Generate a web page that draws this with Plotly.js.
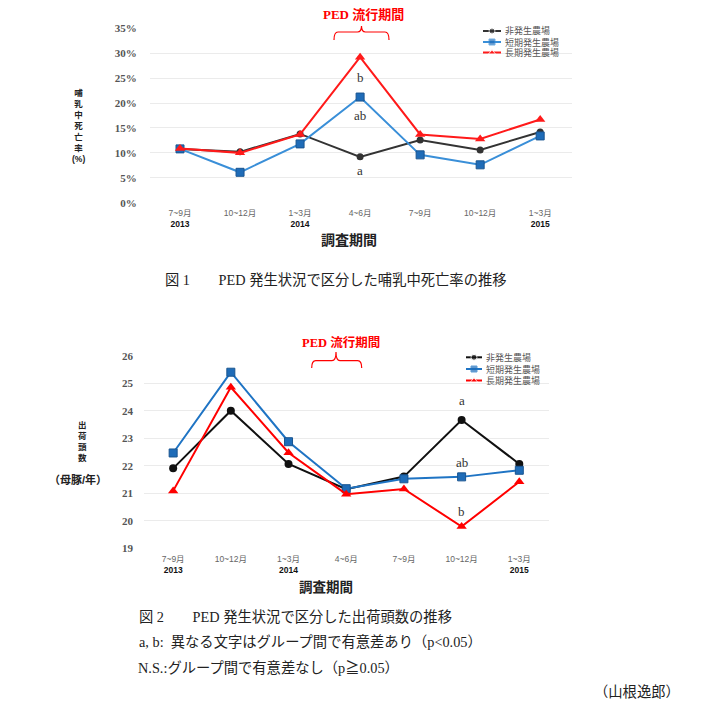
<!DOCTYPE html>
<html><head><meta charset="utf-8">
<script src="https://cdn.plot.ly/plotly-3.0.1.min.js"></script>
<style>html,body{margin:0;padding:0;background:#fff}#c{width:705px;height:702px}</style>
</head><body><div id="c"></div>
<script>
// ---- data ----
const categories = ['7~9月','10~12月','1~3月','4~6月','7~9月','10~12月','1~3月'];
const years = ['2013','','2014','','','','2015'];
const seriesNames = ['非発生農場','短期発生農場','長期発生農場'];
// 図1 哺乳中死亡率 (%)
const mortNon   = [10.8,10.2,13.8,9.2,12.6,10.6,14.2];
const mortShort = [10.8,6.1,11.8,21.2,9.6,7.6,13.4];
const mortLong  = [10.9,10.0,13.7,29.2,13.7,12.8,16.7];
// 図2 出荷頭数 (母豚/年)
const shipNon   = [21.91,24.01,22.07,21.15,21.61,23.67,22.07];
const shipShort = [22.47,25.41,22.88,21.17,21.53,21.60,21.84];
const shipLong  = [21.09,24.86,22.48,20.97,21.16,19.79,21.42];
const mortTicks = [0,5,10,15,20,25,30,35];
const shipTicks = [19,20,21,22,23,24,25,26];
const sigMort = ['b','ab','a'];
const sigShip = ['a','ab','b'];

// ---- helpers ----
const W=705,H=702;
const px=x=>x/W, py=y=>1-y/H;
const idx = categories.map((_,i)=>i);
const tickText = categories.map((c,i)=>'<span style="color:#666">'+c+'</span>'+(years[i]?'<br><b>'+years[i]+'</b>':''));
const serif = 'Liberation Serif, Noto Sans CJK JP, serif';
const sans = 'Liberation Sans, Noto Sans CJK JP, sans-serif';

const colors1 = {non:'#333333', short:'#3a8fd8', long:'#ff1a1a'};
const colors2 = {non:'#111111', short:'#1f74c4', long:'#ff0000'};
function series(y, name, color, symbol, size, xa, ya, mlc){
  return {x:idx, y:y, name:name, type:'scatter', mode:'lines+markers', xaxis:xa, yaxis:ya,
    line:{color:color,width:2}, marker:{symbol:symbol,size:size,color:symbol==='square'?'#1f6cb8':color,
    line:{color:mlc||color,width:symbol==='square'?1:0}}, showlegend:false, hoverinfo:'skip'};
}
const traces = [
  series(mortNon, seriesNames[0], colors1.non, 'circle', 7, 'x','y', '#111'),
  series(mortShort, seriesNames[1], colors1.short, 'square', 8, 'x','y', '#1a5590'),
  series(mortLong, seriesNames[2], colors1.long, 'triangle-up', 9, 'x','y'),
  series(shipNon, seriesNames[0], colors2.non, 'circle', 8, 'x2','y2'),
  series(shipShort, seriesNames[1], colors2.short, 'square', 8, 'x2','y2', '#1a5590'),
  series(shipLong, seriesNames[2], colors2.long, 'triangle-up', 9, 'x2','y2'),
];
// custom legends on a pixel overlay axis
function legendItems(x0,x1,ys,cols,msize){
  const syms=['circle','square','triangle-up'];
  const keys=['non','short','long'];
  ys.forEach((yy,i)=>{
    traces.push({x:[x0,(x0+x1)/2,x1], y:[yy,yy,yy], xaxis:'x3', yaxis:'y3', type:'scatter', mode:'lines+markers',
      line:{color:cols[keys[i]],width:2}, marker:{symbol:syms[i], size:[0,msize,0], color:i===1?'#1f6cb8':cols[keys[i]]},
      showlegend:false, hoverinfo:'skip'});
  });
}
legendItems(483,501,[31,42,52.5],colors1,6);
legendItems(466,482,[357.3,369,380.5],colors2,6);

const annotations = [];
function ann(text,x,y,opts){
  annotations.push(Object.assign({text:text,x:px(x),y:py(y),xref:'paper',yref:'paper',showarrow:false,
    xanchor:'center',yanchor:'middle',font:{family:sans,size:11,color:'#222'}},opts||{}));
}
// legend texts
seriesNames.forEach((n,i)=>ann(n,503,[31,42,52.5][i],{xanchor:'left',font:{family:sans,size:9,color:'#555'}}));
seriesNames.forEach((n,i)=>ann(n,484,[357.3,369,380.5][i],{xanchor:'left',font:{family:sans,size:9,color:'#555'}}));
// y titles (vertical stacked)
const yTitleFont={family:sans,size:8.5,color:'#222'};
ann('<b>'+'哺乳中死亡率'.split('').join('<br>')+'<br>(%)</b>',78,126,{font:yTitleFont});
ann('<b>'+'出荷頭数'.split('').join('<br>')+'</b>',82.3,441.5,{font:yTitleFont});
ann('<b>（母豚/年）</b>',78.3,479.3,{font:{family:sans,size:11,color:'#222'}});
// x titles
ann('<b>調査期間</b>',349,240.5,{font:{family:sans,size:14,color:'#222'}});
ann('<b>調査期間</b>',325.7,587.3,{font:{family:sans,size:13.5,color:'#222'}});
// PED labels
ann('<b>PED 流行期間</b>',363,14.3,{font:{family:serif,size:13,color:'#ff0000'}});
ann('<b>PED 流行期間</b>',340.8,342.7,{font:{family:serif,size:12.5,color:'#ff0000'}});
// significance letters (at 4~6月 / 10~12月)
[[sigMort[0],25.2],[sigMort[1],17.6],[sigMort[2],6.4]].forEach(([t,v])=>annotations.push({text:t,x:3,y:v,xref:'x',yref:'y',showarrow:false,font:{family:serif,size:13,color:'#333'}}));
[[sigShip[0],24.37],[sigShip[1],22.14],[sigShip[2],20.33]].forEach(([t,v])=>annotations.push({text:t,x:5,y:v,xref:'x2',yref:'y2',showarrow:false,font:{family:serif,size:13,color:'#333'}}));
// captions
const capFont={family:serif,size:14.3,color:'#222'};
ann('図 1　　PED 発生状況で区分した哺乳中死亡率の推移',163,280,{xanchor:'left',font:capFont});
ann('図 2　　PED 発生状況で区分した出荷頭数の推移',136.7,616.7,{xanchor:'left',font:capFont});
ann('a, b:  異なる文字はグループ間で有意差あり（p<0.05）',136.7,642.3,{xanchor:'left',font:capFont});
ann('N.S.:グループ間で有意差なし（p≧0.05）',136,667.7,{xanchor:'left',font:capFont});
ann('（山根逸郎）',682,692,{xanchor:'right',font:capFont});

// brackets
function bracket(x0,x1,xm,yEnd,yBar,yTop){
  const r=4;
  const P=(x,y)=>px(x)+','+py(y);
  return 'M'+P(x0,yEnd)+' Q'+P(x0,yBar)+' '+P(x0+r,yBar)+' L'+P(xm-r,yBar)+' Q'+P(xm,yBar)+' '+P(xm,yTop)+
    ' Q'+P(xm,yBar)+' '+P(xm+r,yBar)+' L'+P(x1-r,yBar)+' Q'+P(x1,yBar)+' '+P(x1,yEnd);
}
const shapes=[
  {type:'path',xref:'paper',yref:'paper',path:bracket(334,389,361.5,40,32,26),line:{color:'#ff0000',width:1.2}},
  {type:'path',xref:'paper',yref:'paper',path:bracket(311.7,361.7,336,368,360.7,352),line:{color:'#ff0000',width:1.2}},
];

const yTickFont={family:serif,size:11,color:'#555'};
const xTickFont={family:sans,size:8.5,color:'#111'};
const layout={
  width:W,height:H,margin:{l:0,r:0,t:0,b:0},paper_bgcolor:'#fff',plot_bgcolor:'rgba(0,0,0,0)',showlegend:false,
  xaxis:{domain:[px(150),px(572)],range:[-0.5,6.53],tickvals:idx,ticktext:tickText,showgrid:false,zeroline:false,showline:false,
    tickfont:xTickFont,ticks:'outside',ticklen:2,tickcolor:'rgba(0,0,0,0)',anchor:'y',fixedrange:true},
  yaxis:{domain:[py(202.7),py(28.3)],range:[0,35],tickvals:mortTicks,ticktext:mortTicks.map(v=>'<b>'+v+'%</b>'),gridcolor:'#ebebeb',gridwidth:1,
    zeroline:false,showline:false,tickfont:yTickFont,ticks:'outside',ticklen:10,tickcolor:'rgba(0,0,0,0)',anchor:'x',fixedrange:true},
  xaxis2:{domain:[px(144.3),px(549.3)],range:[-0.5,6.52],tickvals:idx,ticktext:tickText,showgrid:false,zeroline:false,showline:false,
    tickfont:xTickFont,ticks:'outside',ticklen:2,tickcolor:'rgba(0,0,0,0)',anchor:'y2',fixedrange:true},
  yaxis2:{domain:[py(548.3),py(356)],range:[19,26],tickvals:shipTicks,ticktext:shipTicks.map(v=>'<b>'+v+'</b>'),gridcolor:'#ebebeb',gridwidth:1,
    zeroline:false,showline:false,tickfont:yTickFont,ticks:'outside',ticklen:8,tickcolor:'rgba(0,0,0,0)',anchor:'x2',fixedrange:true},
  xaxis3:{domain:[0,1],range:[0,W],visible:false,anchor:'y3',fixedrange:true},
  yaxis3:{domain:[0,1],range:[H,0],visible:false,anchor:'x3',fixedrange:true},
  annotations:annotations,shapes:shapes
};
Plotly.newPlot('c',traces,layout,{staticPlot:true});
</script></body></html>
